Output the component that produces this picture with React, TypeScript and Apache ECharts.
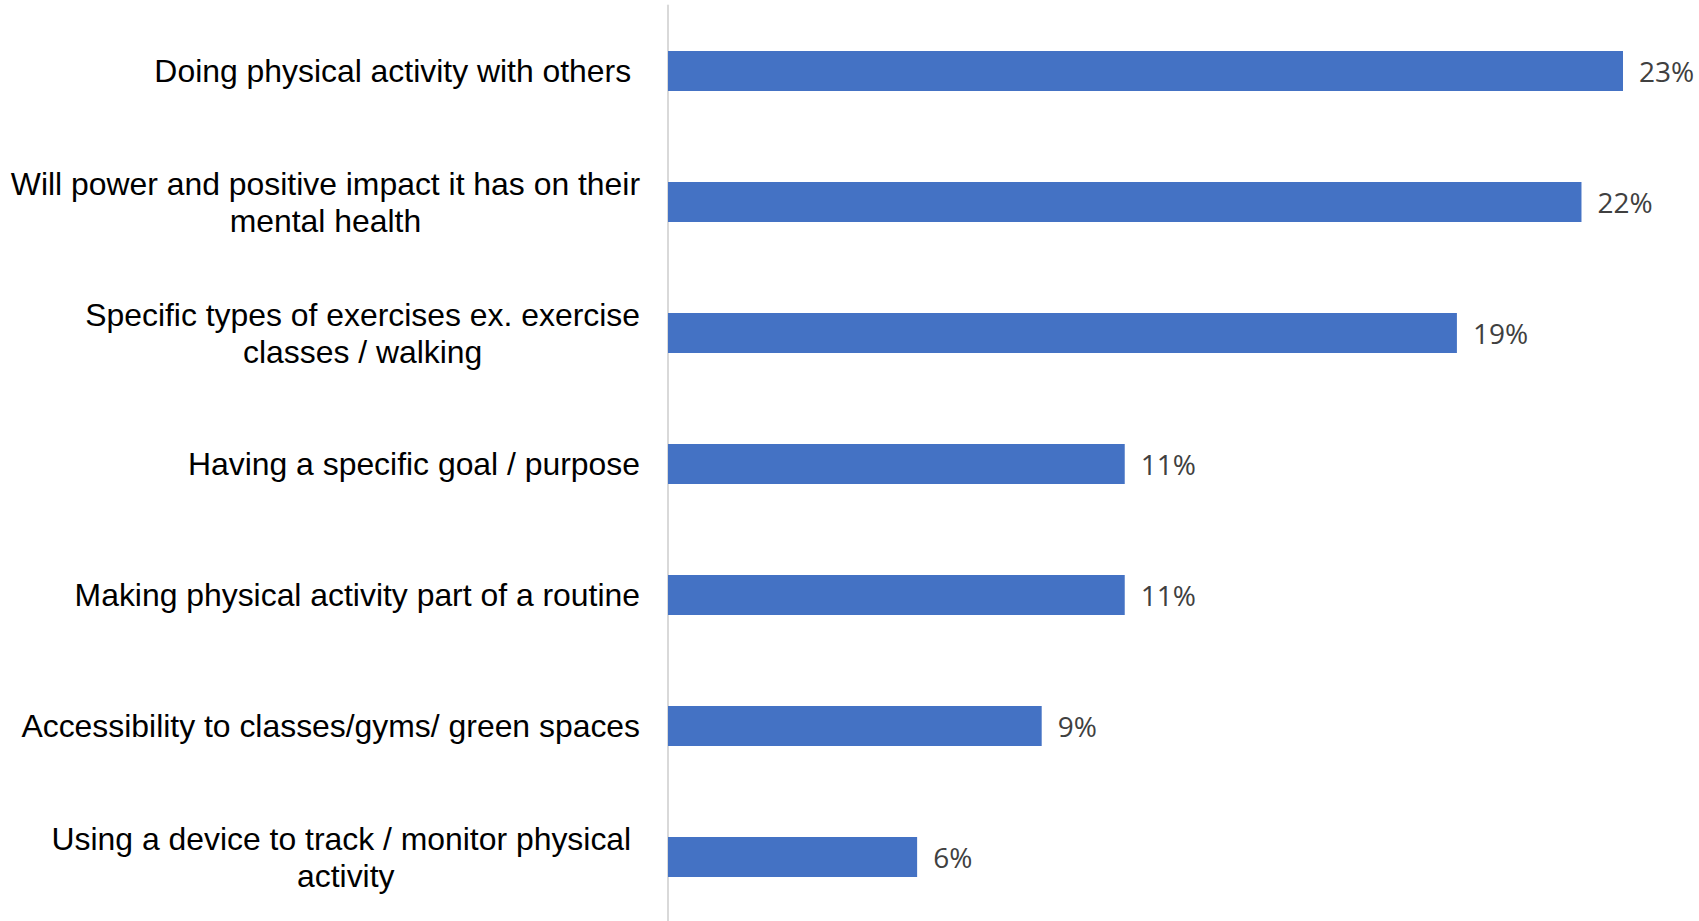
import React, { useEffect, useRef } from "react";
import * as echarts from "echarts";

const categories = [
  "Doing physical activity with others ",
  "Will power and positive impact it has on their\nmental health",
  "Specific types of exercises ex. exercise\nclasses / walking",
  "Having a specific goal / purpose",
  "Making physical activity part of a routine",
  "Accessibility to classes/gyms/ green spaces",
  "Using a device to track / monitor physical \nactivity",
];
const values = [23, 22, 19, 11, 11, 9, 6];

export default function App() {
  const ref = useRef<HTMLDivElement>(null);
  useEffect(() => {
    if (!ref.current) return;
    const chart = echarts.init(ref.current, null, { renderer: "svg" });
    chart.setOption({
      animation: false,
      backgroundColor: "#ffffff",
      grid: {
        left: 668,
        right: 76,
        top: 5.5,
        height: 917,
        containLabel: false,
        outerBoundsMode: "none",
      },
      xAxis: {
        type: "value",
        min: 0,
        max: 23,
        show: false,
      },
      yAxis: {
        type: "category",
        inverse: true,
        data: categories,
        axisLine: { show: true, lineStyle: { color: "#d9d9d9", width: 2 } },
        axisTick: { show: false },
        splitLine: { show: false },
        axisLabel: {
          margin: 28,
          interval: 0,
          formatter: (v: string) =>
            v
              .split("\n")
              .map((l) => `{c|${l}}`)
              .join("\n"),
          rich: {
            c: {
              align: "center",
              fontFamily: "Liberation Sans, Arial, sans-serif",
              fontSize: 31.9,
              lineHeight: 37,
              color: "#000000",
            },
          },
        },
      },
      series: [
        {
          type: "bar",
          data: values,
          barWidth: 40,
          itemStyle: { color: "#4472C4" },
          label: {
            show: true,
            position: "right",
            distance: 16,
            formatter: "{c}%",
            fontFamily: "Open Sans, sans-serif",
            fontSize: 28,
            color: "#404040",
          },
        },
      ],
    });
    return () => chart.dispose();
  }, []);
  return (
    <div
      ref={ref}
      style={{ position: "absolute", left: 0, top: 0, width: 1699, height: 921 }}
    />
  );
}
